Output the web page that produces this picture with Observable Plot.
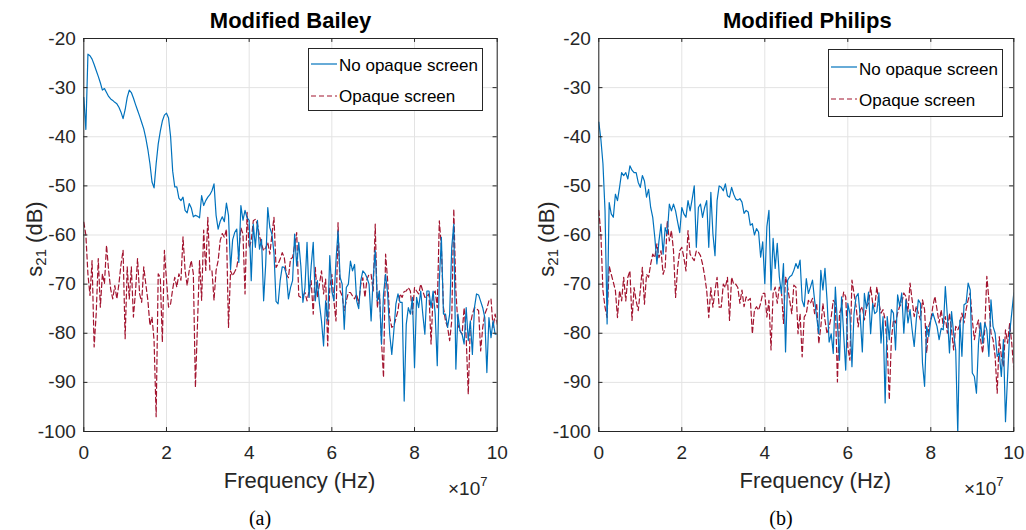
<!DOCTYPE html>
<html>
<head>
<meta charset="utf-8">
<script src="https://cdn.jsdelivr.net/npm/d3@7"></script>
<script src="https://cdn.jsdelivr.net/npm/@observablehq/plot@0.6"></script>
<style>
  body { margin: 0; background: #fff; }
  #root { position: relative; width: 1026px; height: 530px; overflow: hidden; background: #fff;
          font-family: "Liberation Sans", Arial, Helvetica, sans-serif; color: #262626; }
  .panel { position: absolute; top: 0; }
  .abs { position: absolute; white-space: nowrap; line-height: 1; }
  .ylab { font-size: 22px; transform: translate(-50%, -50%) rotate(-90deg); transform-origin: center; }
  .ylab sub { font-size: 15px; vertical-align: -4px; line-height: 0; }
  .mult { font-size: 19px; }
  .mult sup { font-size: 13px; vertical-align: 9px; line-height: 0; }
  .cap { font-family: "Liberation Serif", "Times New Roman", serif; font-size: 20px; color: #000; transform: translateX(-50%); }
  .legbox { position: absolute; box-sizing: border-box; border: 1px solid #262626; background: #fff; }
  .legtxt { font-size: 17px; color: #000; }
</style>
</head>
<body>
<div id="root"></div>
<script>
// Frequency grid, in units of 10^7 Hz
const freqStepE7 = 0.05;
const nPoints = 201;

// Panel (a): Modified Bailey, s21 in dB
const baileyNoScreen = [
  -32, -38.5, -23.2, -23.5, -24.2, -25.3, -26.5, -27.7, -29, -30.5,
  -30.2, -31, -31.8, -32.3, -32.6, -33, -33.3, -34, -35, -36.3,
  -34.5, -32, -30.5, -31, -32.1, -33.4, -34.6, -35.8, -37.1, -38.4,
  -40.3, -42.6, -45.5, -49.2, -50.4, -45.5, -41.5, -38.9, -36.8, -35.6,
  -35.2, -36.2, -40, -47, -50.2, -50.2, -52.5, -53, -52.3, -55,
  -55.5, -53.6, -54.5, -56.3, -56, -56.2, -56.5, -52, -54, -53,
  -52.3, -51.8, -51, -49.6, -56, -58.8, -57.2, -56.3, -57.3, -53.5,
  -56, -67, -61, -59.5, -58.8, -65.6, -54, -57, -55, -56.5,
  -57, -69.3, -57.8, -62.5, -57, -62.9, -60.9, -73.4, -66, -54.4,
  -58.5, -59.8, -63.6, -73.5, -74, -69.3, -66.5, -66.6, -68, -73,
  -70.7, -69.3, -59.8, -66.3, -61.5, -66.3, -73.7, -70.7, -61.5, -72.7,
  -66.3, -61.5, -73.4, -69.3, -74, -77.5, -82.6, -73.4, -77.5, -64.2,
  -71.4, -73.4, -65.3, -59.2, -68.6, -70, -79.2, -70.7, -70, -65.3,
  -67.3, -66, -73.4, -75, -69.3, -67.3, -67.8, -68.7, -70, -77.5,
  -68.7, -63.2, -73.4, -71.4, -82.2, -72, -68, -72, -80.2, -84.3,
  -79.5, -74, -72, -73.7, -73.7, -93.8, -78.2, -74.8, -76.1, -72.7,
  -87, -72.7, -74.8, -71.4, -76.1, -80.2, -71.4, -71.4, -74.8, -71.4,
  -76.1, -86.6, -69.3, -60.5, -76.1, -76.1, -78.8, -76.1, -62.5, -57.8,
  -87.3, -76.1, -79.5, -80.2, -82.2, -74.8, -81.5, -77.5, -84.3, -74.8,
  -72, -72.2, -73.5, -74.8, -76.8, -88, -76.8, -80.9, -77.5, -80.2,
  -80.2
];
const baileyOpaque = [
  -57.4, -60, -68, -72.3, -65.2, -82.8, -76, -64.8, -74.7, -67.9,
  -69.9, -62.1, -67.2, -71, -73, -70.3, -73, -69.9, -66, -63.1,
  -81.1, -66.5, -73, -66.5, -76.7, -71.6, -64.8, -72, -73.7, -66.5,
  -70, -73.3, -78.4, -76.7, -81.5, -97, -67.9, -68.6, -81.8, -63.1,
  -69.2, -74.7, -74, -71, -68.6, -70.6, -67.9, -69.2, -60.4, -67.2,
  -70.3, -67.2, -65.2, -67.9, -91, -78.1, -65.2, -73.3, -59, -67.2,
  -56.4, -67.2, -67.2, -73.3, -67.2, -65.2, -61.1, -59.7, -60.5, -58.8,
  -78.8, -67.3, -68.3, -67.5, -66.6, -63.9, -58.5, -59.8, -72, -55.4,
  -62.6, -61.2, -57.1, -56.8, -57.8, -60.2, -61.9, -63.2, -62.6, -61.5,
  -63.9, -60, -56.4, -66.6, -65.9, -64.9, -63.6, -64.6, -68, -68.7,
  -64.9, -64.6, -62, -59.5, -72.4, -72.7, -72.4, -71.7, -73.4, -71.4,
  -69.3, -76.1, -66.6, -72.7, -70, -67.3, -72, -69, -82.6, -70.7,
  -68, -73.4, -77.5, -57.5, -71.4, -72.4, -75.4, -73.4, -71.7, -71.7,
  -72.4, -73, -72, -74, -70, -68.7, -72.7, -69, -68, -68,
  -71.4, -57.8, -74.8, -71.4, -81.5, -89, -63.9, -69.3, -76.8, -78.8,
  -78.5, -77, -75.4, -72, -72.7, -71.5, -71.4, -70.7, -71.4, -76.1,
  -70.7, -71.4, -72, -70, -71.4, -72.7, -72.5, -72, -82.2, -72,
  -71.4, -74.8, -57.1, -62.5, -74.8, -77.5, -78.8, -81.5, -77.5, -54.7,
  -71.4, -78.2, -79.5, -80.2, -74.8, -80.9, -92.4, -78.2, -76.1, -74.8,
  -75, -75.4, -83.6, -78.8, -76.1, -75, -73.4, -73, -78.8, -76.1,
  -78.2
];

// Panel (b): Modified Philips, s21 in dB
const philipsNoScreen = [
  -37, -40.5, -45.5, -55, -78.1, -53.4, -55.7, -56.4, -51.7, -53,
  -50.3, -47.3, -47.9, -47.3, -48.6, -45.9, -46.8, -47.3, -47.3, -49.3,
  -50.3, -47.9, -49, -52.3, -50.7, -54.4, -56.4, -60.5, -65.9, -61.2,
  -57.8, -63.9, -58.5, -59.8, -53.7, -55.1, -53.7, -55.1, -57.4, -59.5,
  -54.4, -55.7, -56.4, -53, -55.1, -52.7, -50, -62.5, -54.4, -53.7,
  -56.4, -54.4, -53, -62.5, -51.3, -59.8, -64.2, -53, -50, -50.3,
  -51, -49.6, -52, -52.3, -50.3, -51.7, -52.7, -52.9, -52.6, -53.3,
  -55.6, -55, -55.3, -58, -57.7, -60, -58.7, -59.4, -64.5, -61.4,
  -69.9, -58.3, -55, -71.2, -60.7, -66.8, -61.7, -68.5, -71.9, -65.8,
  -83.8, -69.2, -68.5, -68.2, -67.2, -65.8, -66.8, -65.1, -73.3, -74.6,
  -68.9, -71.9, -70.6, -69.2, -73.3, -76.7, -80.1, -67.2, -71.2, -66.8,
  -73.3, -81.8, -80.1, -84.1, -70.6, -78, -85.5, -72.6, -80.1, -87.5,
  -73.9, -76, -86.8, -76, -72.6, -71.9, -76.7, -83.8, -71.9, -75,
  -71.6, -80.1, -73.9, -76, -75.6, -71.8, -82, -76.6, -94.2, -76.6,
  -81.3, -75.2, -75.9, -83.4, -72.2, -74.5, -71.8, -80, -73.2, -77.9,
  -75.2, -79.3, -82.7, -77.3, -73.2, -73.9, -86.1, -90.8, -78.6, -80.7,
  -77.3, -75.9, -77.3, -78.6, -81.3, -79, -79.3, -70.5, -76.6, -84,
  -75.6, -80, -83.4, -100.5, -77.3, -84.7, -74.2, -73.9, -69.8, -71.2,
  -88.1, -88.8, -92.2, -82, -77.9, -82, -77.9, -79.3, -84.7, -73.2,
  -78.6, -80, -84.7, -84, -88.8, -81.3, -98, -88.8, -80, -75.9,
  -71.8
];
const philipsOpaque = [
  -55, -59.8, -71.3, -74.7, -76.8, -66.3, -68, -69.6, -71.3, -76.8,
  -71.3, -73.4, -68.6, -73.4, -68.6, -67.3, -77.4, -70.7, -73.4, -75.4,
  -71.3, -66.6, -74.1, -68, -68.6, -65.9, -63.9, -64.6, -61.8, -64.6,
  -63.2, -68, -66.6, -57.1, -61.2, -59.1, -63.2, -72.7, -66.6, -63.2,
  -62.5, -64.6, -67.3, -59.1, -63.9, -64.6, -65.2, -63.2, -63.5, -64.2,
  -65.9, -68.3, -71.3, -76.8, -70.7, -74.7, -71.3, -68.6, -74.7, -74.7,
  -70, -70.7, -68.6, -77.4, -68.6, -70, -70, -70.7, -73.9, -71.2,
  -74.6, -72.6, -73.3, -72.9, -80.1, -75.3, -74.6, -75.3, -73.9, -71.9,
  -71.9, -76.7, -73.3, -83.4, -71.9, -70.6, -73.9, -70.6, -71.2, -78,
  -68.5, -70.6, -73.3, -76, -70.2, -70.6, -80.1, -76, -84.8, -76.7,
  -76, -73.3, -73.9, -72.9, -76, -73.9, -82.1, -78.7, -73.9, -77.3,
  -80.1, -78.7, -76.7, -73.3, -73.9, -89.9, -76, -74.6, -71.6, -72.6,
  -82.8, -85.5, -69.2, -71.9, -74.6, -78.7, -75.3, -74.6, -77.3, -74.6,
  -73.9, -70.6, -73.9, -74.6, -70.5, -73.9, -75.9, -75.2, -77.3, -82.7,
  -93.5, -81.3, -77.3, -77.9, -75.9, -74.5, -73.9, -71.8, -72.5, -75.6,
  -69.8, -73.2, -76.6, -74.5, -75.9, -77.3, -73.2, -75.2, -84, -78.6,
  -77.3, -74.5, -72.5, -75.2, -77.9, -75.2, -78.6, -76.6, -80, -75.9,
  -79.3, -83.4, -78.6, -79.3, -78.3, -75.9, -77.9, -75.2, -73.2, -71.8,
  -77.3, -81.3, -78.6, -77.3, -81.3, -84, -79.3, -68.4, -73.2, -80,
  -81.3, -84.7, -92.2, -80.7, -84.7, -86.8, -79.3, -82, -78, -82,
  -87.4
];

const xTicks = [0, 2, 4, 6, 8, 10];
const yTicks = [-20, -30, -40, -50, -60, -70, -80, -90, -100];
const seriesNames = ["No opaque screen", "Opaque screen"];
const panelTitles = ["Modified Bailey", "Modified Philips"];
const panelCaptions = ["(a)", "(b)"];
const xLabel = "Frequency (Hz)";

for (const [name, arr] of Object.entries({baileyNoScreen, baileyOpaque, philipsNoScreen, philipsOpaque})) {
  if (arr.length !== nPoints) throw new Error(name + " has " + arr.length + " points");
}

const blue = "#0072BD", red = "#A2142F", axisCol = "#262626", gridCol = "#e3e3e3";
const dash = "5,3";
const lw = 1.2;
const freq = d3.range(nPoints).map(i => +(i * freqStepE7).toFixed(2));

function toRows(values) { return values.map((v, i) => ({f: freq[i], v})); }

const root = document.getElementById("root");

const layouts = [
  {left: 0, marginLeft: 83.3, marginRight: 16.3, titleDx: 0, labelDx: 9,
   values: [baileyNoScreen, baileyOpaque]},
  {left: 513, marginLeft: 85.3, marginRight: 12.7, titleDx: 1, labelDx: 9,
   values: [philipsNoScreen, philipsOpaque]}
];

layouts.forEach((L, k) => {
  const chart = Plot.plot({
    width: 513,
    height: 530,
    marginLeft: L.marginLeft,
    marginRight: L.marginRight,
    marginTop: 38,
    marginBottom: 99,
    style: {fontFamily: '"Liberation Sans", Arial, Helvetica, sans-serif', fontSize: "19px", color: axisCol, background: "transparent"},
    x: {domain: [0, 10], ticks: xTicks, tickSize: 0, tickPadding: 14, tickFormat: d => String(d), label: null},
    y: {domain: [-100, -20], ticks: yTicks, tickSize: 0, tickPadding: 8, tickFormat: d => String(d), label: null},
    marks: [
      Plot.ruleX(xTicks, {stroke: gridCol, strokeWidth: 1}),
      Plot.ruleY(yTicks, {stroke: gridCol, strokeWidth: 1}),
      Plot.line(toRows(L.values[1]), {x: "f", y: "v", stroke: red, strokeWidth: lw, strokeDasharray: dash, clip: true}),
      Plot.line(toRows(L.values[0]), {x: "f", y: "v", stroke: blue, strokeWidth: lw, clip: true}),
      Plot.frame({stroke: axisCol, strokeWidth: 1}),
      // inward tick marks on all four sides
      Plot.ruleY(yTicks, {x1: 0, x2: 0.1, stroke: axisCol}),
      Plot.ruleY(yTicks, {x1: 9.9, x2: 10, stroke: axisCol}),
      Plot.ruleX(xTicks, {y1: -100, y2: -99.2, stroke: axisCol}),
      Plot.ruleX(xTicks, {y1: -20.8, y2: -20, stroke: axisCol}),
      Plot.text([panelTitles[k]], {text: d => d, frameAnchor: "top", lineAnchor: "bottom", dy: -11, dx: L.titleDx,
        fontSize: 22, fontWeight: "bold", fill: "#000"}),
      Plot.text([xLabel], {text: d => d, frameAnchor: "bottom", lineAnchor: "bottom", dy: 56, dx: L.labelDx,
        fontSize: 22, fill: axisCol})
    ]
  });
  chart.classList.add("panel");
  chart.style.left = L.left + "px";
  root.appendChild(chart);
});

function addDiv(cls, html, left, top) {
  const d = document.createElement("div");
  d.className = "abs " + cls;
  d.innerHTML = html;
  d.style.left = left + "px";
  d.style.top = top + "px";
  root.appendChild(d);
  return d;
}

// y-axis labels (rotated)
addDiv("ylab", "s<sub>21</sub> (dB)", 35, 239);
addDiv("ylab", "s<sub>21</sub> (dB)", 547, 239);
// exponent labels
addDiv("mult", "×10<sup>7</sup>", 448, 479);
addDiv("mult", "×10<sup>7</sup>", 964, 479);
// captions
addDiv("cap", panelCaptions[0], 260, 508);
addDiv("cap", panelCaptions[1], 781, 508);

// legends
function legend(box, rows) {
  const b = document.createElement("div");
  b.className = "legbox";
  Object.assign(b.style, {left: box.x + "px", top: box.y + "px", width: box.w + "px", height: box.h + "px"});
  root.appendChild(b);
  rows.forEach((r, i) => {
    const s = document.createElementNS("http://www.w3.org/2000/svg", "svg");
    s.setAttribute("width", 27); s.setAttribute("height", 4);
    s.style.position = "absolute";
    s.style.left = r.lx + "px"; s.style.top = (r.ly - 2) + "px";
    const ln = document.createElementNS("http://www.w3.org/2000/svg", "line");
    ln.setAttribute("x1", 0); ln.setAttribute("x2", 26); ln.setAttribute("y1", 2); ln.setAttribute("y2", 2);
    ln.setAttribute("stroke", i === 0 ? blue : red);
    ln.setAttribute("stroke-width", lw);
    if (i === 1) ln.setAttribute("stroke-dasharray", dash);
    s.appendChild(ln);
    root.appendChild(s);
    addDiv("legtxt", seriesNames[i], r.tx, r.ty);
  });
}
legend({x: 308, y: 48, w: 175, h: 63}, [
  {lx: 311, ly: 63.5, tx: 339, ty: 57.3},
  {lx: 311, ly: 95.7, tx: 339, ty: 88.1}
]);
legend({x: 828, y: 49, w: 175, h: 68}, [
  {lx: 831, ly: 67.3, tx: 859, ty: 60.6},
  {lx: 831, ly: 99, tx: 859, ty: 92.1}
]);
</script>
</body>
</html>
